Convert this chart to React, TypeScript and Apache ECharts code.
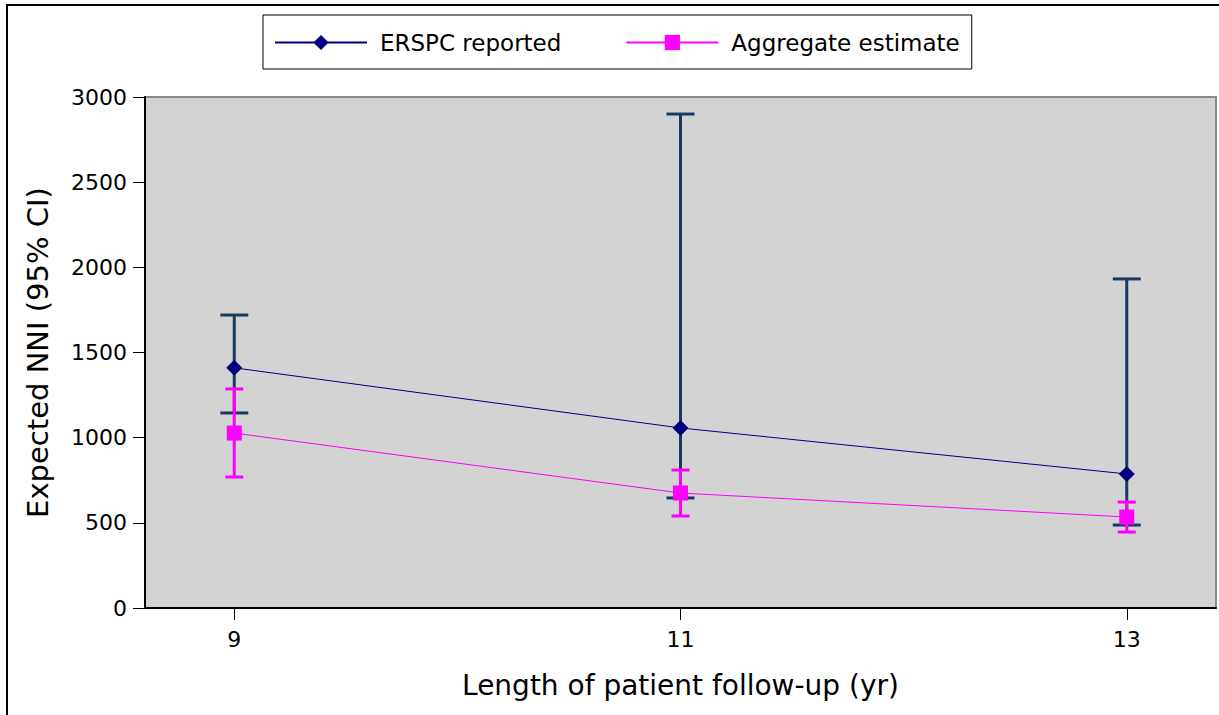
import React, { useEffect, useRef } from "react";
import * as echarts from "echarts";

const years = [9, 11, 13];
const xTicks = [9, 11, 13];
const erspc = [1410, 1057, 787];
const erspcLow = [1145, 646, 487];
const erspcHigh = [1720, 2900, 1932];
const aggregate = [1027, 675, 534];
const aggLow = [769, 540, 446];
const aggHigh = [1286, 810, 622];

const FONT = "'DejaVu Sans', sans-serif";

function errorBars(name: string, lows: number[], highs: number[], color: string, cap: number) {
  return {
    type: "custom",
    name,
    z: 1,
    silent: true,
    encode: { x: 0, y: [1, 2] },
    data: years.map((x, i) => [x, lows[i], highs[i]]),
    renderItem: (params: any, api: any) => {
      const x = api.value(0);
      const lo = api.coord([x, api.value(1)]);
      const hi = api.coord([x, api.value(2)]);
      const st = { stroke: color, lineWidth: 3 };
      return {
        type: "group",
        children: [
          { type: "line", shape: { x1: lo[0], y1: lo[1], x2: hi[0], y2: hi[1] }, style: st },
          { type: "line", shape: { x1: lo[0] - cap / 2, y1: lo[1], x2: lo[0] + cap / 2, y2: lo[1] }, style: st },
          { type: "line", shape: { x1: hi[0] - cap / 2, y1: hi[1], x2: hi[0] + cap / 2, y2: hi[1] }, style: st },
        ],
      };
    },
  };
}

export default function App() {
  const ref = useRef<HTMLDivElement>(null);
  useEffect(() => {
    const chart = echarts.init(ref.current!, undefined, { renderer: "svg" });
    chart.setOption({
      animation: false,
      backgroundColor: "#ffffff",
      textStyle: { fontFamily: FONT },
      graphic: [
        {
          type: "rect",
          shape: { x: 7, y: 5, width: 1240, height: 740 },
          style: { fill: "none", stroke: "#000", lineWidth: 2 },
          silent: true,
        },
      ],
      legend: {
        data: ["ERSPC reported", "Aggregate estimate"],
        left: 263,
        top: 15,
        orient: "horizontal",
        padding: [16, 12, 15, 11],
        itemGap: 64,
        itemWidth: 92,
        itemHeight: 19,
        borderColor: "#000",
        borderWidth: 1,
        backgroundColor: "#fff",
        textStyle: { fontFamily: FONT, fontSize: 23, color: "#000", padding: [0, 0, 0, 8] },
      },
      grid: {
        left: 145,
        top: 97,
        right: 3,
        bottom: 107,
        show: true,
        backgroundColor: "#d3d3d3",
        borderColor: "#8a8a8a",
        borderWidth: 2,
        containLabel: false,
      },
      xAxis: {
        type: "value",
        min: 8.6,
        max: 13.4,
        name: "Length of patient follow-up (yr)",
        nameLocation: "middle",
        nameGap: 63,
        nameTextStyle: { fontFamily: FONT, fontSize: 28, color: "#000", verticalAlign: "top" },
        axisLine: { show: true, onZero: false, lineStyle: { color: "#000", width: 2 } },
        axisTick: { show: true, customValues: xTicks, length: 12, lineStyle: { color: "#000", width: 1 } },
        axisLabel: { customValues: xTicks, margin: 20, fontFamily: FONT, fontSize: 22, color: "#000" },
        splitLine: { show: false },
      },
      yAxis: {
        type: "value",
        min: 0,
        max: 3000,
        interval: 500,
        name: "Expected NNI (95% CI)",
        nameLocation: "middle",
        nameGap: 93,
        nameTextStyle: { fontFamily: FONT, fontSize: 29, color: "#000" },
        axisLine: { show: true, lineStyle: { color: "#000", width: 2 } },
        axisTick: { show: true, length: 12, lineStyle: { color: "#000", width: 1 } },
        axisLabel: {
          margin: 18,
          fontFamily: FONT,
          fontSize: 22,
          color: "#000",
          formatter: (v: number) => String(v),
        },
        splitLine: { show: false },
      },
      series: [
        errorBars("ERSPC CI", erspcLow, erspcHigh, "#1b3a60", 28),
        errorBars("Aggregate CI", aggLow, aggHigh, "#ff00ff", 18),
        {
          type: "line",
          name: "ERSPC reported",
          z: 3,
          data: years.map((x, i) => [x, erspc[i]]),
          symbol: "diamond",
          symbolSize: 16,
          lineStyle: { color: "#000080", width: 1 },
          itemStyle: { color: "#000080" },
        },
        {
          type: "line",
          name: "Aggregate estimate",
          z: 3,
          data: years.map((x, i) => [x, aggregate[i]]),
          symbol: "rect",
          symbolSize: 15,
          lineStyle: { color: "#ff00ff", width: 1 },
          itemStyle: { color: "#ff00ff" },
        },
      ],
    });
    return () => chart.dispose();
  }, []);
  return (
    <div
      ref={ref}
      style={{ position: "absolute", left: 0, top: 0, width: 1219, height: 715 }}
    />
  );
}
